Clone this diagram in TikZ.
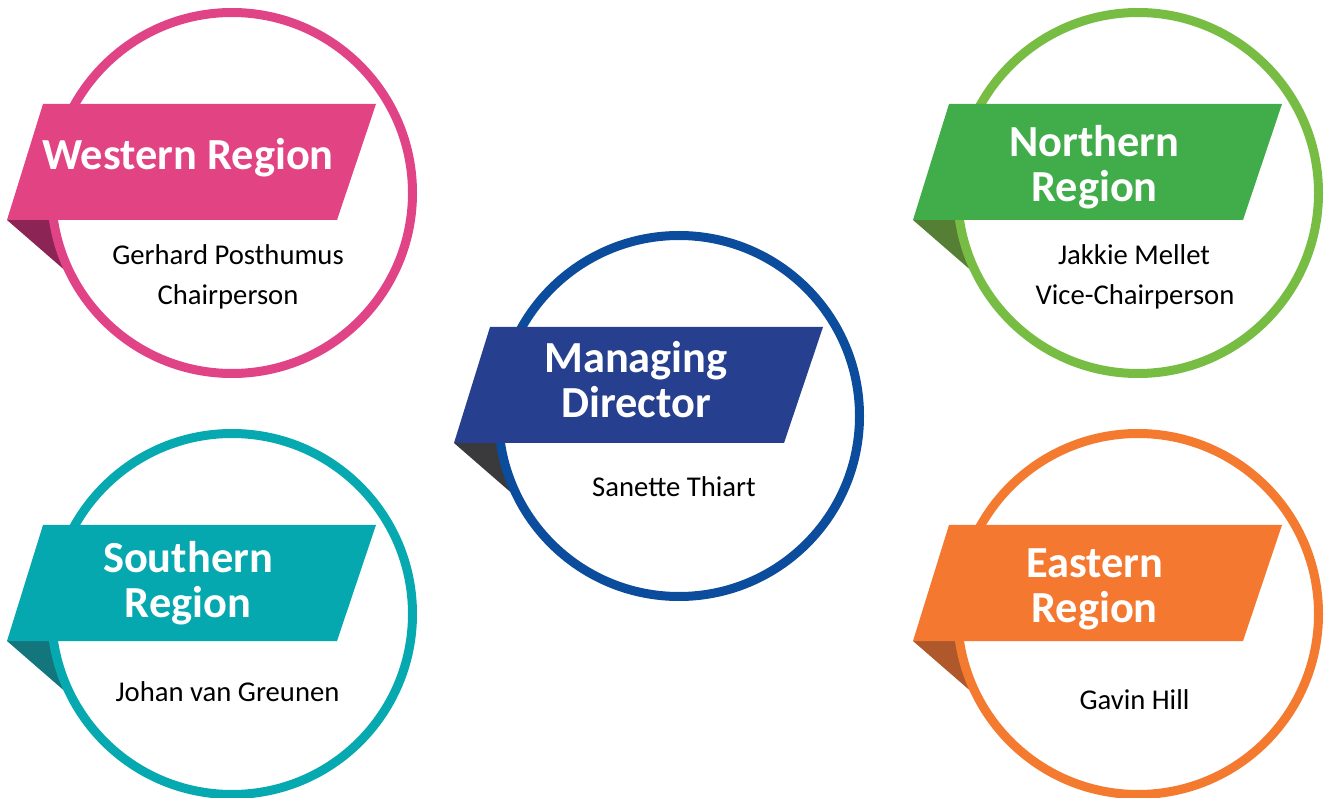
\documentclass[tikz,border=0pt]{standalone}
\usepackage{fontspec}
\setmainfont{Carlito}
\definecolor{pinkR}{HTML}{E14383}
\definecolor{pinkC}{HTML}{E04487}
\definecolor{pinkF}{HTML}{8C2455}
\definecolor{blueR}{HTML}{263F8F}
\definecolor{blueC}{HTML}{0B4C9C}
\definecolor{blueF}{HTML}{3A3A3C}
\definecolor{greenR}{HTML}{41AD4A}
\definecolor{greenC}{HTML}{77BD43}
\definecolor{greenF}{HTML}{567F36}
\definecolor{tealR}{HTML}{06A8B0}
\definecolor{tealC}{HTML}{07A9B1}
\definecolor{tealF}{HTML}{13767D}
\definecolor{orangeR}{HTML}{F47830}
\definecolor{orangeC}{HTML}{F47A2F}
\definecolor{orangeF}{HTML}{AE582B}
\newcommand\mybadge[5]{%
  \begin{scope}[shift={(#1,#2)}]
    \fill[#5] (-225,27) -- (-180,27) -- (-164,80) -- cycle;
    \draw[ringline, draw=#4] (0,0) circle[radius=180.5];
    \fill[#3] (-189,-89) -- (144,-89) -- (105,27) -- (-225,27) -- cycle;
  \end{scope}}
\begin{document}
\begin{tikzpicture}[x=0.75pt,y=-0.75pt,
  ringline/.style={line width=6.75pt},
  head/.style={text=white, font=\fontsize{33.3}{35}\selectfont\bfseries, anchor=base, inner sep=0pt},
  who/.style={text=black, font=\fontsize{21.5}{24}\selectfont, anchor=base, inner sep=0pt}]
\useasboundingbox[fill=white] (0,0) rectangle (1329,798);
\mybadge{232}{193}{pinkR}{pinkC}{pinkF}
\mybadge{1138}{193}{greenR}{greenC}{greenF}
\mybadge{679}{416}{blueR}{blueC}{blueF}
\mybadge{232}{614}{tealR}{tealC}{tealF}
\mybadge{1138}{614}{orangeR}{orangeC}{orangeF}
% Western
\node[head] (wh) at (188,170) {Western Region};
\node[who] (wn1) at (228,265) {Gerhard Posthumus};
\node[who] (wn2) at (228,305) {Chairperson};
% Northern
\node[head] (nh1) at (1094.5,157) {Northern};
\node[head] (nh2) at (1094.5,202) {Region};
\node[who] (nn1) at (1134,265) {Jakkie Mellet};
\node[who] (nn2) at (1135,305) {Vice-Chairperson};
% Managing Director
\node[head] (mh1) at (636,373) {Managing};
\node[head] (mh2) at (636,418) {Director};
\node[who] (mn1) at (674,497) {Sanette Thiart};
% Southern
\node[head] (sh1) at (188,573) {Southern};
\node[head] (sh2) at (188,618) {Region};
\node[who] (sn1) at (227.5,701) {Johan van Greunen};
% Eastern
\node[head] (eh1) at (1094.5,577) {Eastern};
\node[head] (eh2) at (1094.5,622) {Region};
\node[who] (en1) at (1134.5,709) {Gavin Hill};
\end{tikzpicture}
\end{document}
